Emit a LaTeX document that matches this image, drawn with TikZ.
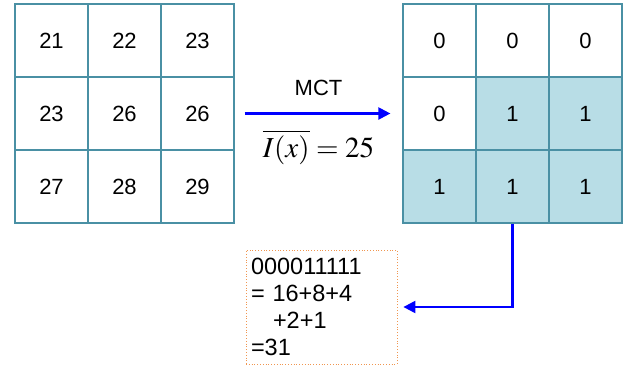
\documentclass[tikz,border=0pt]{standalone}
\usepackage{mathptmx}
\usepackage{fontspec}
\setmainfont{Liberation Sans}
\usepackage{xcolor}
\usetikzlibrary{arrows.meta,positioning,calc}
\definecolor{gridline}{RGB}{74,144,164}
\definecolor{onefill}{RGB}{184,221,230}
\definecolor{boxline}{RGB}{240,150,80}
\begin{document}
\begin{tikzpicture}[x=1pt, y=-1pt, >={Triangle[length=12pt,width=12pt]},
  cell/.style={draw=gridline, line width=1.2pt, minimum size=73pt, inner sep=0pt, font=\fontsize{22}{26}\selectfont},
  flow/.style={->, draw=blue, line width=2.2pt},
  result/.style={draw=boxline, dotted, line width=0.8pt, text width=141pt, minimum height=114pt, inner sep=5pt, align=left, font=\fontsize{23.5}{27}\selectfont}]
  \useasboundingbox (0,0) rectangle (626,369);
  \foreach \v [count=\i from 0] in {21,22,23,23,26,26,27,28,29}{
    \pgfmathtruncatemacro{\r}{\i/3+1}\pgfmathtruncatemacro{\c}{mod(\i,3)+1}
    \node[cell] (l-\r-\c) at ({15+36.5+73*(\c-1)},{4+36.5+73*(\r-1)}) {\v};}
  \foreach \v [count=\i from 0] in {0,0,0,0,1,1,1,1,1}{
    \pgfmathtruncatemacro{\r}{\i/3+1}\pgfmathtruncatemacro{\c}{mod(\i,3)+1}
    \ifnum\v=1 \def\f{onefill}\else \def\f{white}\fi
    \node[cell, fill=\f] (r-\r-\c) at ({403+36.5+73*(\c-1)},{4+36.5+73*(\r-1)}) {\v};}
  \node[result] (res) at (321.5,307) {000011111\\= 16+8+4\\\hspace{22pt}+2+1\\=31};
  \draw[flow, shorten <=10pt, shorten >=12pt] (l-2-3.east) -- node[above=13pt, font=\fontsize{22}{26}\selectfont]{MCT}
    node[below=12pt, font=\fontsize{29}{34}\selectfont]{$\overline{I(x)}=25$} (r-2-1.west);
  \draw[flow, shorten >=6pt] (r-3-2.south) |- (res.east);
\end{tikzpicture}
\end{document}
